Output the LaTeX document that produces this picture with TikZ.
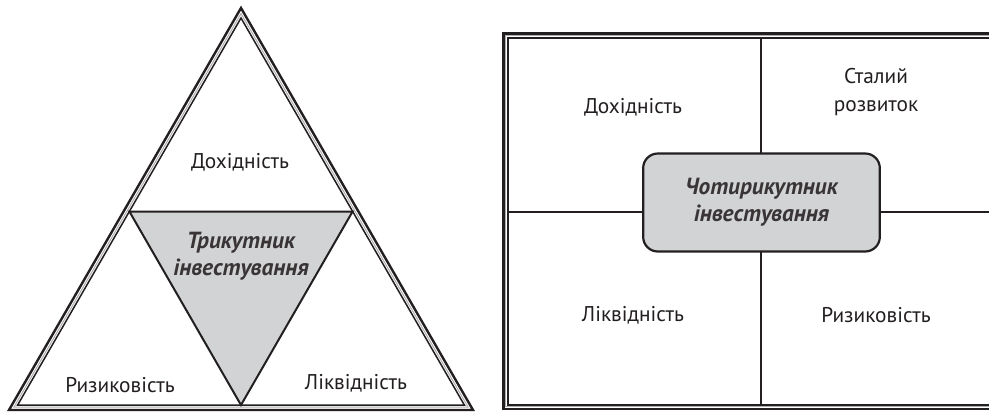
\documentclass[tikz,border=0pt]{standalone}
\usepackage{fontspec}
\setmainfont{PT Sans}
\definecolor{ink}{HTML}{231F20}
\definecolor{fillgray}{HTML}{D2D3D5}
\definecolor{gapgray}{HTML}{B0B0B0}
\begin{document}
\begin{tikzpicture}[x=0.75pt,y=-0.75pt,
  outerline/.style={draw=ink,line width=2.4pt*0.75,line join=miter},
  gapline/.style={draw=gapgray,line width=1pt*0.75},
  innerline/.style={draw=ink,line width=1.5pt*0.75,line join=miter},
  divline/.style={draw=ink,line width=1.5pt*0.75},
  lbl/.style={font=\fontsize{16pt}{20.5pt}\selectfont,text=ink,align=center,inner sep=0pt},
  centrelbl/.style={font=\fontsize{17.5pt}{20pt}\selectfont\bfseries\itshape,text=ink!90,align=center,inner sep=0pt},
  centrebox/.style={draw=ink,fill=fillgray,line width=2.2pt*0.75,rounded corners=11pt}]
\useasboundingbox (0,0) rectangle (989,412);
\clip (0,0) rectangle (989,412);
\fill[white] (0,0) rectangle (989,412);
% ---------- left: triangle ----------
\coordinate (inc) at (241,276);
\path[outerline] (241,8) -- (9,410) -- (473,410) -- cycle;
\begin{scope}[shift={(inc)},scale=0.979]
  \path[gapline] (0,-268) -- (-232,134) -- (232,134) -- cycle;
\end{scope}
\begin{scope}[shift={(inc)},scale=0.9627]
  \path[innerline] (0,-268) -- (-232,134) -- (232,134) -- cycle;
\end{scope}
\coordinate (tl) at (129.4,211.5);
\coordinate (tr) at (352.6,211.5);
\coordinate (tb) at (241,405);
\draw[draw=ink,fill=fillgray,line width=2pt*0.75,line join=miter] (tl) -- (tr) -- (tb) -- cycle;
\node[lbl] (t1) at (240,162) {Дохідність};
\node[centrelbl] (tc) at (241,256) {Трикутник\\інвестування};
\node[lbl] (t2) at (120,385) {Ризиковість};
\node[lbl] (t3) at (356,383) {Ліквідність};
% ---------- right: quadrangle ----------
\path[outerline] (1010,33.5) -- (503.5,33.5) -- (503.5,409) -- (1010,409);
\path[gapline] (1010,35.8) -- (505.8,35.8) -- (505.8,406.8) -- (1010,406.8);
\path[innerline] (1010,37.8) -- (507.8,37.8) -- (507.8,404.8) -- (1010,404.8);
\coordinate (vt) at (761,37.8);
\coordinate (vb) at (761,404.8);
\coordinate (hl) at (507.8,212);
\coordinate (hr) at (1010,212);
\draw[divline] (vt) -- (vb);
\draw[divline] (hl) -- (hr);
\node[centrebox,minimum width=177.5pt,minimum height=73.5pt] (q) at (761.5,202.5) {};
\node[centrelbl] (qc) at (q.center) {Чотирикутник\\інвестування};
\node[lbl] (q1) at (633,107) {Дохідність};
\node[lbl] (q2) at (876,92) {Сталий\\розвиток};
\node[lbl] (q3) at (633,315) {Ліквідність};
\node[lbl] (q4) at (876,315) {Ризиковість};
\end{tikzpicture}
\end{document}
